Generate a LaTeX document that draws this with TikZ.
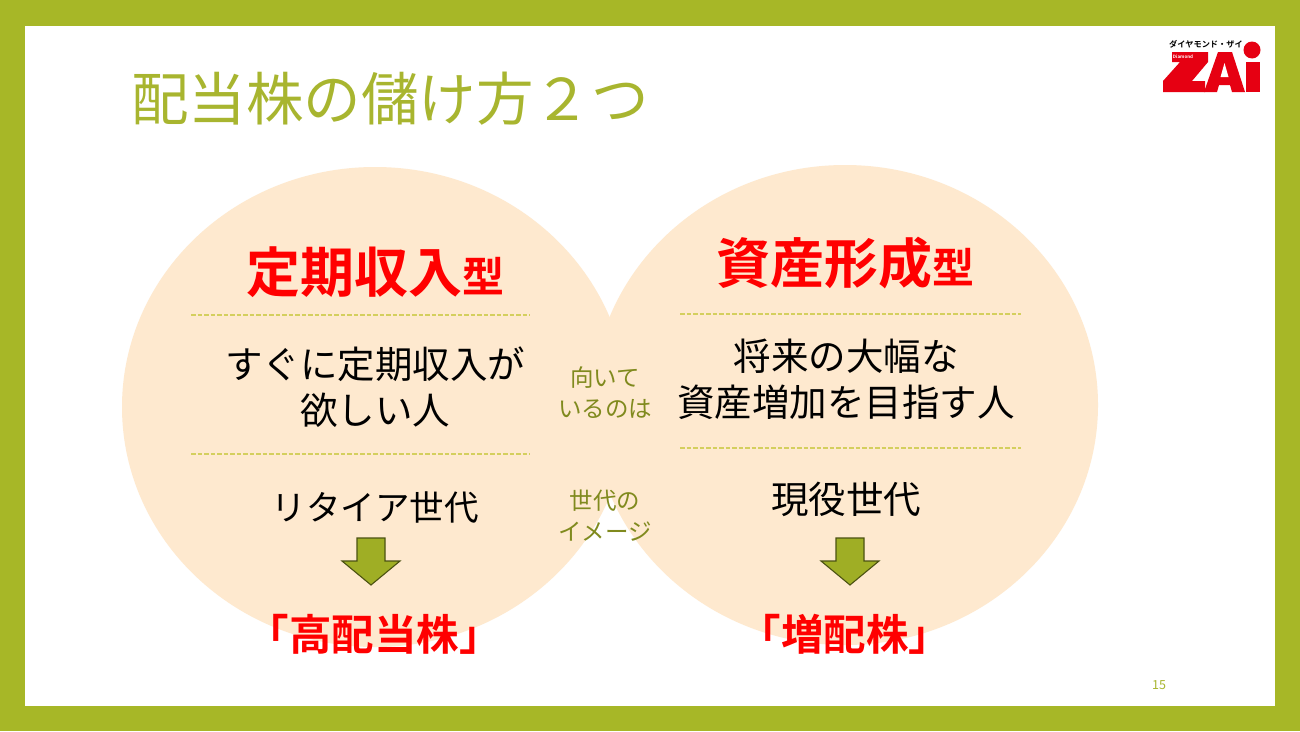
\documentclass[tikz,border=0pt]{standalone}
\usepackage{fontspec}
\setmainfont{Noto Sans CJK JP}
\newfontfamily\cjkb{Noto Sans CJK JP Bold}
\definecolor{frame}{HTML}{A7B727}
\definecolor{peach}{HTML}{FEE9CF}
\definecolor{olive}{HTML}{A8B52F}
\definecolor{dark}{HTML}{808A1E}
\definecolor{zred}{HTML}{E60012}
\definecolor{sepc}{HTML}{D4CF5E}
\tikzset{
 x=1pt,y=-1pt,
 bub/.style={ellipse,fill=peach,minimum width=506pt,minimum height=480pt,inner sep=0pt},
 body/.style={text=black,font=\fontsize{37.5}{46}\selectfont,align=center,inner sep=0pt},
 side/.style={text=dark,font=\fontsize{23.5}{31}\selectfont,align=center,inner sep=0pt},
 headb/.style={text=red,inner sep=0pt,font=\cjkb\fontsize{54}{62}\selectfont},
 resb/.style={text=red,inner sep=0pt,font=\cjkb\fontsize{42.5}{50}\selectfont},
 sep/.style={draw=sepc,dash pattern=on 4.5pt off 2pt,line width=1.5pt},
 arr/.style={fill=frame!95!black,draw=black!55!frame,line width=1.1pt,line join=miter},
}
\usetikzlibrary{shapes.geometric}
\begin{document}
\begin{tikzpicture}
\useasboundingbox (0,0) rectangle (1300,731);
\fill[frame] (0,0) rectangle (1300,731);
\fill[white] (25,26) rectangle (1275,706);
\node[text=olive,anchor=west,inner sep=0pt,font=\fontsize{57.5}{70}\selectfont] (title) at (131,99) {配当株の儲け方２つ};
% bubbles
\node[bub] (L) at (375,407) {};
\node[bub] (R) at (845,405) {};
% left
\node[headb,anchor=center] (lh) at (375,272) {定期収入{\fontsize{42}{46}\selectfont 型}};
\coordinate (l1a) at (191,315); \coordinate (l1b) at (530,315);
\draw[sep] (l1a) -- (l1b);
\node[body] (lb) at (375,387) {すぐに定期収入が\\欲しい人};
\coordinate (l2a) at (191,454); \coordinate (l2b) at (530,454);
\draw[sep] (l2a) -- (l2b);
\node[body,font=\fontsize{34.5}{45}\selectfont] (lg) at (375,508) {リタイア世代};
\draw[arr] (357,538) -- (385,538) -- (385,561) -- (400,561) -- (371,585) -- (342,561) -- (357,561) -- cycle;
\node[resb] (lr) at (374,634) {「高配当株」};
% right
\node[headb,anchor=center] (rh) at (845,263) {資産形成{\fontsize{42}{46}\selectfont 型}};
\coordinate (r1a) at (680,314); \coordinate (r1b) at (1021,314);
\draw[sep] (r1a) -- (r1b);
\node[body] (rb) at (846,379) {将来の大幅な\\資産増加を目指す人};
\coordinate (r2a) at (680,448); \coordinate (r2b) at (1021,448);
\draw[sep] (r2a) -- (r2b);
\node[body] (rg) at (846,499) {現役世代};
\draw[arr] (836,538) -- (864,538) -- (864,561) -- (879,561) -- (850,585) -- (821,561) -- (836,561) -- cycle;
\node[resb] (rr) at (845,634) {「増配株」};
% middle
\node[side] (m1) at (605,393) {向いて\\いるのは};
\node[side] (m2) at (605,516) {世代の\\イメージ};
% page number
\node[text=olive,inner sep=0pt,font=\fontsize{12.5}{14}\selectfont] (pg) at (1159,685) {15};
% logo
\node[inner sep=0pt,font=\cjkb\fontsize{8.2}{10}\selectfont] (lt) at (1206,44) {ダイヤモンド・ザイ};
\fill[zred] (1172,52) -- (1208,52) -- (1208,62) -- (1192,81) -- (1205,81) -- (1205,92) -- (1163,92) -- (1163,81) -- (1180,62) -- (1172,62) -- cycle;
\fill[zred] (1218,52) -- (1232,52) -- (1245,92) -- (1232,92) -- (1230,85) -- (1219,85) -- (1217,92) -- (1204,92) -- cycle;
\fill[white] (1224.5,63) -- (1228.5,77) -- (1220.5,77) -- cycle;
\fill[zred] (1246,62) rectangle (1260,92);
\fill[zred] (1252,50) circle (8.5);
\node[text=white,inner sep=0pt,font=\cjkb\fontsize{4.5}{5}\selectfont] (dm) at (1183,57) {Diamond};
\end{tikzpicture}
\end{document}
